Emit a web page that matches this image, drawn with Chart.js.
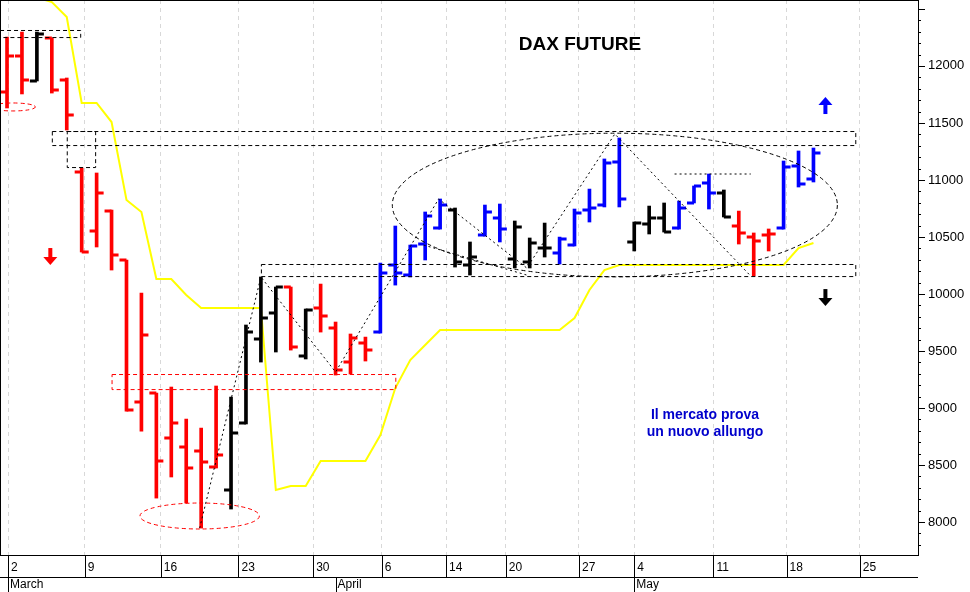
<!DOCTYPE html>
<html>
<head>
<meta charset="utf-8">
<script src="https://cdn.jsdelivr.net/npm/chart.js@4"></script>
<style>
  html, body { margin: 0; padding: 0; background: #fff; }
  #wrap { width: 970px; height: 592px; }
</style>
</head>
<body>
<div id="wrap"><canvas id="c"></canvas></div>
<script>
// trading-day index 0 = 2 March
const opens  = [11771,12087,11868,12245,11876,11070,10552,10727,10298,9052,9131,8737,8658,8623,8482,8281,8868,9605,9833,10061,9456,9877,9701,9403,9570,
                9666,10254,10166,10438,10578,10736,10254,10517,10666,10307,10280,10403,10359,10429,10736,10780,11157,10456,10613,10666,10578,10798,10973,10885,10596,10499,10517,10578,11122,11008];
const highs  = [12253,12297,12297,12245,11894,11105,11061,10736,10298,10008,9131,9184,8903,8824,9193,9096,9728,10149,10061,10061,9868,10087,9754,9649,9622,
                10271,10596,10429,10719,10833,10754,10456,10780,10789,10640,10491,10622,10499,10745,10920,11184,11368,10631,10771,10798,10815,10947,11052,10912,10727,10535,10570,11166,11254,11280];
const lows   = [11631,11754,11868,11762,11438,10368,10412,10210,8973,8798,8210,8395,8167,7947,8474,8114,8860,9403,9491,9508,9430,9666,9289,9298,9412,
                9657,10078,10149,10298,10569,10236,10166,10508,10456,10228,10228,10324,10263,10421,10631,10763,10763,10377,10526,10543,10569,10798,10745,10675,10438,10157,10377,10569,10938,10982];
const closes = [12087,11876,12280,11789,11569,10368,10885,10342,8982,9640,8535,8868,8474,8526,8588,8781,9666,9789,10061,9535,9859,9807,9333,9614,9508,
                10184,10184,10421,10684,10780,10280,10324,10719,10570,10587,10447,10403,10482,10710,10754,11148,10833,10622,10666,10543,10754,10947,10885,10675,10535,10464,10526,11113,10964,11236];
const barColors = 'RRKRRRRRRRRRRRRKKKKRKRRRRBBBBBKKBBKKKBBBBBKKKBBBKRRRBBB'.split('');
const stopLine = [12700,12700,12600,12560,12429,11675,11675,11508,10824,10719,10131,10131,9991,9877,9877,9877,9877,9877,8281,8316,8316,8535,8535,8535,8535,
                  8763,9175,9421,9552,9684,9684,9684,9684,9684,9684,9684,9684,9684,9789,10035,10210,10254,10254,10254,10254,10254,10254,10254,10254,10254,10254,10254,10254,10403,10447];

const dayTicks  = [0.07,5.2,10.3,15.5,20.5,25.1,29.4,33.4,38.3,42.0,47.3,52.2,57.1];
const dayLabels = ['2','9','16','23','30','6','14','20','27','4','11','18','25'];
const monthTicks  = [0.07,22.0,42.0];
const monthLabels = ['March','April','May'];
const yTicks = [8000,8500,9000,9500,10000,10500,11000,11500,12000];

// annotations in data units: [x1, x2, y1, y2, colour]
const boxes = [
  [-0.5, 4.9, 12253, 12315, '#000'],
  [3.0, 56.8, 11306, 11429, '#000'],
  [4.0, 5.9, 11113, 11429, '#000'],
  [17.0, 56.8, 10157, 10263, '#000'],
  [7.0, 26.0, 9166, 9298, '#f00']
];
// [cx, cy, rx(index), ry(points), colour]
const ellipses = [
  [0.4, 11640, 1.5, 35, '#f00'],
  [12.9, 8053, 4.0, 114, '#f00'],
  [40.7, 10780, 14.9, 630, '#000']
];
const zigzag = [[12.9,7947],[17.0,10149],[22.0,9316],[28.9,10833],[34.8,10228],[40.7,11403],[49.8,10157]];
const extraLines = [[[27.9,10429],[34.8,10166]], [[44.7,11052],[49.8,11052]]];
const arrows = [[2.9,10324,'down','#f00'],[54.8,11657,'up','#00f'],[54.8,9964,'down','#000']];

const colMap = { R: '#ff0000', K: '#000000', B: '#0000ff' };
const idx = opens.map((_, i) => i);
const FONT = '"Liberation Sans", Arial, sans-serif';

const ohlcPlugin = {
  id: 'ohlc',
  afterDatasetsDraw(chart) {
    const { ctx, scales: { x, y }, chartArea: a } = chart;
    ctx.save();
    ctx.beginPath(); ctx.rect(a.left, a.top, a.right - a.left, a.bottom - a.top); ctx.clip();
    // open / close ticks
    ctx.lineWidth = 3;
    idx.forEach(i => {
      const px = x.getPixelForValue(i);
      ctx.strokeStyle = colMap[barColors[i]];
      ctx.beginPath();
      ctx.moveTo(px - 7, y.getPixelForValue(opens[i])); ctx.lineTo(px, y.getPixelForValue(opens[i]));
      ctx.moveTo(px, y.getPixelForValue(closes[i])); ctx.lineTo(px + 7, y.getPixelForValue(closes[i]));
      ctx.stroke();
    });
    ctx.lineWidth = 1;
    ctx.setLineDash([4, 3]);
    boxes.forEach(b => {
      ctx.strokeStyle = b[4];
      const x1 = x.getPixelForValue(b[0]), x2 = x.getPixelForValue(b[1]);
      const y1 = y.getPixelForValue(b[3]), y2 = y.getPixelForValue(b[2]);
      ctx.strokeRect(x1 + 0.5, y1 + 0.5, x2 - x1, y2 - y1);
    });
    ellipses.forEach(e => {
      ctx.strokeStyle = e[4];
      const cx = x.getPixelForValue(e[0]), cy = y.getPixelForValue(e[1]);
      const rx = x.getPixelForValue(e[0] + e[2]) - cx, ry = cy - y.getPixelForValue(e[1] + e[3]);
      ctx.beginPath(); ctx.ellipse(cx, cy, rx, ry, 0, 0, Math.PI * 2); ctx.stroke();
    });
    ctx.strokeStyle = '#000';
    ctx.setLineDash([2, 3]);
    ctx.beginPath();
    zigzag.forEach((p, k) => {
      const px = x.getPixelForValue(p[0]), py = y.getPixelForValue(p[1]);
      k ? ctx.lineTo(px, py) : ctx.moveTo(px, py);
    });
    extraLines.forEach(l => {
      ctx.moveTo(x.getPixelForValue(l[0][0]), y.getPixelForValue(l[0][1]));
      ctx.lineTo(x.getPixelForValue(l[1][0]), y.getPixelForValue(l[1][1]));
    });
    ctx.stroke();
    ctx.setLineDash([]);
    arrows.forEach(ar => {
      const px = x.getPixelForValue(ar[0]), py = y.getPixelForValue(ar[1]);
      const s = ar[2] === 'up' ? -1 : 1;
      ctx.fillStyle = ar[3];
      ctx.fillRect(px - 2, Math.min(py - 9 * s, py), 4, 9);
      ctx.beginPath();
      ctx.moveTo(px - 7, py); ctx.lineTo(px + 7, py); ctx.lineTo(px, py + 8 * s); ctx.closePath(); ctx.fill();
    });
    ctx.restore();

    // texts
    ctx.save();
    ctx.fillStyle = '#000';
    ctx.font = 'bold 19px ' + FONT;
    ctx.textAlign = 'center'; ctx.textBaseline = 'middle';
    ctx.fillText('DAX FUTURE', 580, 45);
    ctx.fillStyle = '#0000cc';
    ctx.font = 'bold 14px ' + FONT;
    ctx.fillText('Il mercato prova', 705, 415);
    ctx.fillText('un nuovo allungo', 705, 432);

    // y labels
    ctx.fillStyle = '#000';
    ctx.font = '13px ' + FONT;
    ctx.textAlign = 'left';
    yTicks.forEach(v => ctx.fillText(String(v), a.right + 10, y.getPixelForValue(v)));
    // minor y ticks
    ctx.strokeStyle = '#000'; ctx.lineWidth = 1;
    ctx.beginPath();
    for (let v = 7800; v <= 12500; v += 100) {
      const py = Math.round(y.getPixelForValue(v)) + 0.5;
      const len = v % 500 === 0 ? 7 : 3;
      ctx.moveTo(a.right, py); ctx.lineTo(a.right + len, py);
    }
    ctx.stroke();

    // frame and date rows
    ctx.strokeRect(a.left + 0.5, a.top + 0.5, a.right - a.left, a.bottom - a.top);
    ctx.beginPath();
    ctx.moveTo(a.left, 577.5); ctx.lineTo(a.right, 577.5);
    dayTicks.forEach(v => {
      const px = Math.round(x.getPixelForValue(v)) + 0.5;
      ctx.moveTo(px, a.bottom); ctx.lineTo(px, 577);
    });
    monthTicks.forEach(v => {
      const px = Math.round(x.getPixelForValue(v)) + 0.5;
      ctx.moveTo(px, 577); ctx.lineTo(px, 592);
    });
    ctx.stroke();
    ctx.font = '12px ' + FONT;
    dayTicks.forEach((v, k) => ctx.fillText(dayLabels[k], x.getPixelForValue(v) + 3, 568));
    monthTicks.forEach((v, k) => ctx.fillText(monthLabels[k], x.getPixelForValue(v) + 2, 585));
    ctx.restore();
  }
};

new Chart(document.getElementById('c'), {
  type: 'bar',
  data: {
    datasets: [
      {
        type: 'line',
        data: idx.map(i => ({ x: i, y: stopLine[i] })),
        borderColor: '#ffff00',
        borderWidth: 2,
        pointRadius: 0,
        tension: 0,
        order: 2
      },
      {
        type: 'bar',
        data: idx.map(i => ({ x: i, y: [lows[i], highs[i]] })),
        backgroundColor: idx.map(i => colMap[barColors[i]]),
        barThickness: 3,
        order: 1
      }
    ]
  },
  options: {
    responsive: true,
    maintainAspectRatio: false,
    animation: false,
    layout: { padding: 0 },
    plugins: { legend: { display: false }, tooltip: { enabled: false } },
    scales: {
      x: {
        type: 'linear',
        offset: false,
        min: -0.47,
        max: 61,
        afterBuildTicks: s => { s.ticks = dayTicks.map(v => ({ value: v })); },
        afterFit: s => { s.height = 37; },
        ticks: { display: false },
        grid: { color: '#d8d8d8', tickLength: 0, drawTicks: false, offset: false },
        border: { display: false, dash: [4, 4] }
      },
      y: {
        position: 'right',
        min: 7711,
        max: 12578,
        afterBuildTicks: s => { s.ticks = yTicks.map(v => ({ value: v })); },
        afterFit: s => { s.width = 52; },
        ticks: { display: false },
        grid: { display: false },
        border: { display: false }
      }
    }
  },
  plugins: [ohlcPlugin]
});
</script>
</body>
</html>
